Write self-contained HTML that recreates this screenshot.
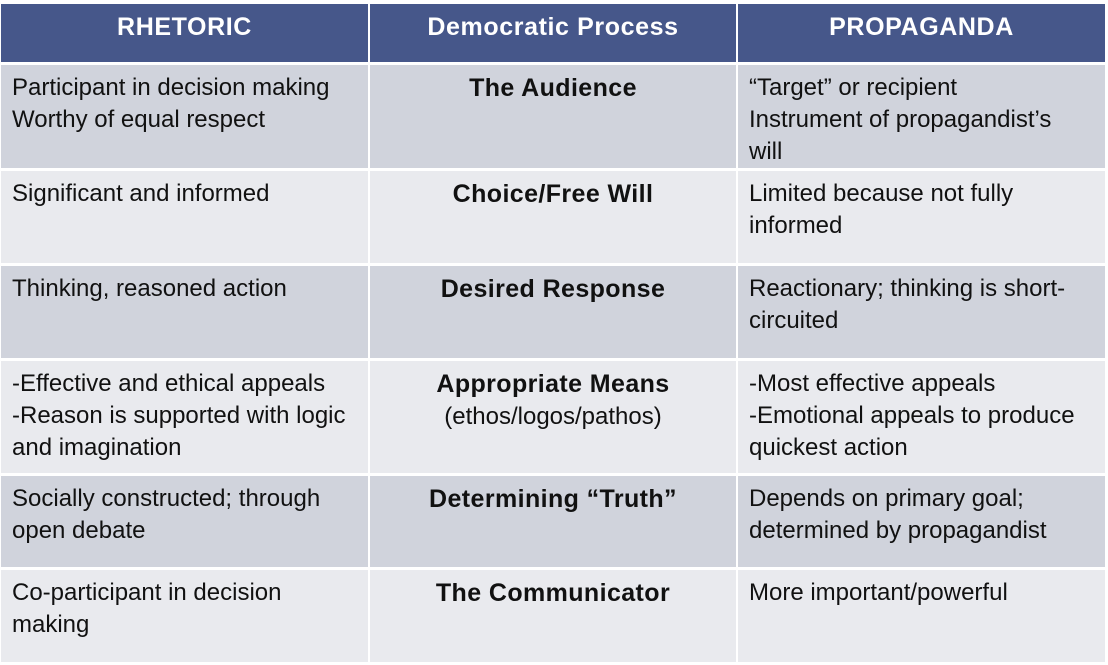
<!DOCTYPE html>
<html><head><style>
body{margin:0;width:1108px;height:665px;background:#fff;overflow:hidden;font-family:"Liberation Sans",sans-serif;}
.c{position:absolute;box-sizing:border-box;padding:7px 4px 0 11px;font-size:24px;line-height:32px;color:#111;letter-spacing:0;white-space:nowrap;}
.h{background:#46578a;color:#fff;font-weight:bold;text-align:center;font-size:25px;letter-spacing:0.6px;padding:7px 0 0 0;}
.d{background:#d0d3dc}.l{background:#e9eaee}
.m{text-align:center;font-weight:normal;padding-left:0;padding-right:0}
.m b{font-size:25px;letter-spacing:0.4px}
</style></head><body>
<div class="c h" style="left:1px;top:4px;width:367px;height:58px">RHETORIC</div>
<div class="c h" style="left:370px;top:4px;width:366px;height:58px">Democratic Process</div>
<div class="c h" style="left:738px;top:4px;width:367px;height:58px">PROPAGANDA</div>

<div class="c d" style="left:1px;top:65px;width:367px;height:103px">Participant in decision making<br>Worthy of equal respect</div>
<div class="c d m" style="left:370px;top:65px;width:366px;height:103px"><b>The Audience</b></div>
<div class="c d" style="left:738px;top:65px;width:367px;height:103px">“Target” or recipient<br>Instrument of propagandist’s<br>will</div>

<div class="c l" style="left:1px;top:171px;width:367px;height:92px">Significant and informed</div>
<div class="c l m" style="left:370px;top:171px;width:366px;height:92px"><b>Choice/Free Will</b></div>
<div class="c l" style="left:738px;top:171px;width:367px;height:92px">Limited because not fully<br>informed</div>

<div class="c d" style="left:1px;top:266px;width:367px;height:92px">Thinking, reasoned action</div>
<div class="c d m" style="left:370px;top:266px;width:366px;height:92px"><b>Desired Response</b></div>
<div class="c d" style="left:738px;top:266px;width:367px;height:92px">Reactionary; thinking is short-<br>circuited</div>

<div class="c l" style="left:1px;top:361px;width:367px;height:112px">-Effective and ethical appeals<br>-Reason is supported with logic<br>and imagination</div>
<div class="c l m" style="left:370px;top:361px;width:366px;height:112px"><b>Appropriate Means</b><br>(ethos/logos/pathos)</div>
<div class="c l" style="left:738px;top:361px;width:367px;height:112px">-Most effective appeals<br>-Emotional appeals to produce<br>quickest action</div>

<div class="c d" style="left:1px;top:476px;width:367px;height:91px">Socially constructed; through<br>open debate</div>
<div class="c d m" style="left:370px;top:476px;width:366px;height:91px"><b>Determining “Truth”</b></div>
<div class="c d" style="left:738px;top:476px;width:367px;height:91px">Depends on primary goal;<br>determined by propagandist</div>

<div class="c l" style="left:1px;top:570px;width:367px;height:92px">Co-participant in decision<br>making</div>
<div class="c l m" style="left:370px;top:570px;width:366px;height:92px"><b>The Communicator</b></div>
<div class="c l" style="left:738px;top:570px;width:367px;height:92px">More important/powerful</div>
</body></html>
